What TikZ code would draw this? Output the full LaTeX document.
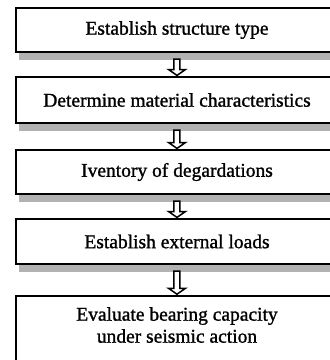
\documentclass[tikz,border=0pt]{standalone}
\usepackage{fontspec}
\setmainfont{Liberation Serif}
\newfontfamily\heavyserif{Liberation Serif}[FakeBold=1.2]
\usetikzlibrary{calc,backgrounds}
\definecolor{shadowgrey}{HTML}{B2B2B2}
\begin{document}
\begin{tikzpicture}[x=1pt,y=-1pt,
  stepbox/.style={draw=black, line width=2.4pt, fill=white, minimum width=322pt,
    inner sep=0pt, font=\heavyserif\fontsize{19.5}{22}\selectfont, align=center},
  steptext/.style={inner sep=0pt, font=\heavyserif\fontsize{19.5}{22}\selectfont, align=center},
  hollowarrow/.style={draw=black, line width=1.5pt, fill=white, line join=miter},
  boxshadow/.style={fill=shadowgrey}]
\clip (0,0) rectangle (330,360);
\node[stepbox, minimum height=43.6pt] (b1) at (177,30) {Establish structure type};
\node[stepbox, minimum height=45.6pt] (b2) at (177,100) {Determine material characteristics};
\node[stepbox, minimum height=43.6pt] (b3) at (177,172) {Iventory of degardations};
\node[stepbox, minimum height=44.6pt] (b4) at (177,241.5) {Establish external loads};
\node[stepbox, minimum height=84pt] (b5) at (177,338) {};
\node[steptext] (t5) at (177,325) {Evaluate bearing capacity\\under seismic action};
\begin{scope}[on background layer]
  \foreach \b in {b1,b2,b3,b4}{
    \fill[boxshadow] ([xshift=4pt,yshift=-7pt]\b.north west) rectangle ([xshift=8pt,yshift=-7pt]\b.south east);
  }
\end{scope}
\foreach \a/\b in {b1/b2,b2/b3,b3/b4,b4/b5}{
  \draw[hollowarrow]
    ($(\a.south)+(-3pt,-6pt)$) -- ($(\a.south)+(3pt,-6pt)$)
    -- ($(\b.north)+(3pt,6.5pt)$) -- ($(\b.north)+(8.5pt,6.5pt)$)
    -- ($(\b.north)+(0pt,0.6pt)$) -- ($(\b.north)+(-8.5pt,6.5pt)$)
    -- ($(\b.north)+(-3pt,6.5pt)$) -- cycle;
}
\end{tikzpicture}
\end{document}
